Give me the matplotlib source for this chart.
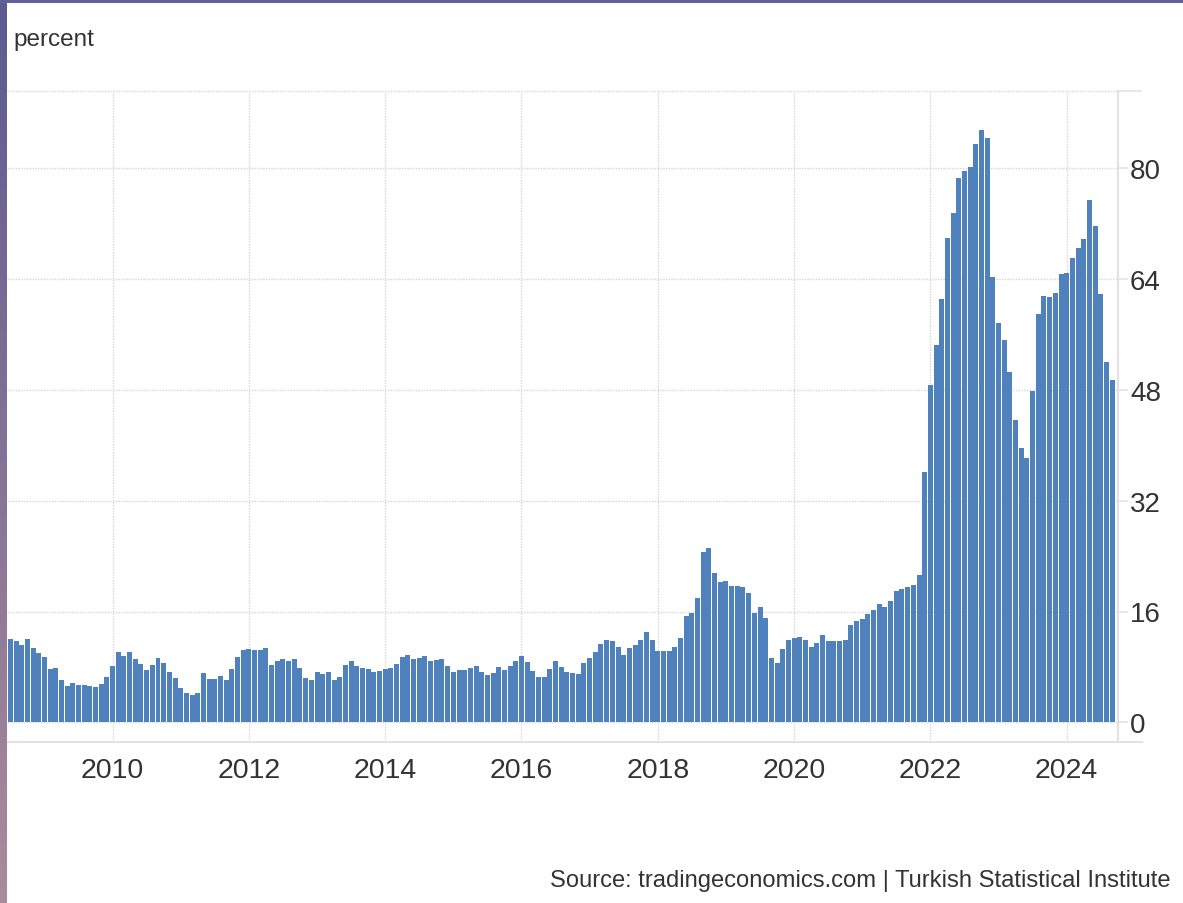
import matplotlib
matplotlib.use("Agg")
import matplotlib.pyplot as plt
import numpy as np
from matplotlib.colors import to_rgb

plt.rcParams["font.family"] = ["Liberation Sans", "DejaVu Sans"]

# Turkey inflation rate, monthly, Jun 2008 .. Sep 2024 (percent)
START_YEAR, START_MONTH = 2008, 6
inflation = [
    10.61, 12.06, 11.77, 11.13, 11.99, 10.76, 10.06,                        # 2008 Jun-Dec
    9.50, 7.73, 7.89, 6.13, 5.24, 5.73, 5.39, 5.33, 5.27, 5.08, 5.53, 6.53,  # 2009
    8.19, 10.13, 9.56, 10.19, 9.10, 8.37, 7.58, 8.33, 9.24, 8.62, 7.29, 6.40,  # 2010
    4.90, 4.16, 3.99, 4.26, 7.17, 6.24, 6.31, 6.65, 6.15, 7.66, 9.48, 10.45,  # 2011
    10.61, 10.43, 10.43, 10.70, 8.28, 8.87, 9.07, 8.88, 9.19, 7.80, 6.37, 6.16,  # 2012
    7.31, 7.03, 7.29, 6.13, 6.51, 8.30, 8.88, 8.17, 7.88, 7.71, 7.32, 7.40,  # 2013
    7.75, 7.89, 8.39, 9.38, 9.66, 9.16, 9.32, 9.54, 8.86, 8.96, 9.15, 8.17,  # 2014
    7.24, 7.55, 7.61, 7.91, 8.09, 7.20, 6.81, 7.14, 7.95, 7.58, 8.10, 8.81,  # 2015
    9.58, 8.78, 7.46, 6.57, 6.58, 7.64, 8.79, 8.05, 7.28, 7.16, 7.00, 8.53,  # 2016
    9.22, 10.13, 11.29, 11.87, 11.72, 10.90, 9.79, 10.68, 11.20, 11.90, 12.98, 11.92,  # 2017
    10.35, 10.26, 10.23, 10.85, 12.15, 15.39, 15.85, 17.90, 24.52, 25.24, 21.62, 20.30,  # 2018
    20.35, 19.67, 19.71, 19.50, 18.71, 15.72, 16.65, 15.01, 9.26, 8.55, 10.56, 11.84,  # 2019
    12.15, 12.37, 11.86, 10.94, 11.39, 12.62, 11.76, 11.77, 11.75, 11.89, 14.03, 14.60,  # 2020
    14.97, 15.61, 16.19, 17.14, 16.59, 17.53, 18.95, 19.25, 19.58, 19.89, 21.31, 36.08,  # 2021
    48.69, 54.44, 61.14, 69.97, 73.50, 78.62, 79.60, 80.21, 83.45, 85.51, 84.39, 64.27,  # 2022
    57.68, 55.18, 50.51, 43.68, 39.59, 38.21, 47.83, 58.94, 61.53, 61.36, 61.98, 64.77,  # 2023
    64.86, 67.07, 68.50, 69.80, 75.45, 71.60, 61.78, 51.97, 49.38,          # 2024 Jan-Sep
]
year_ticks = [2008, 2010, 2012, 2014, 2016, 2018, 2020, 2022, 2024]
y_ticks = [0, 16, 32, 48, 64, 80]

BAR = "#4f81bd"
GRID = "#d6d6d6"
AXIS = "#e2e2e2"
TEXT = "#333333"

W, H = 1183, 904
x = START_YEAR + (START_MONTH - 1 + np.arange(len(inflation))) / 12

fig = plt.figure(figsize=(W / 100, H / 100), dpi=100)
ax = fig.add_axes([7 / W, (H - 742.7) / H, 1111 / W, 651 / H])

ax.bar(x, inflation, width=0.88 / 12, color=BAR, zorder=2, linewidth=0)
ax.set_xlim(2008.451, 2024.753)
ax.set_ylim(-2.8, 91.2)

# grid (dotted), drawn under the bars
ax.set_xticks([t for t in year_ticks if t > 2008.451])
ax.set_yticks(y_ticks)
ax.grid(True, color=GRID, linestyle=(0, (1, 1)), linewidth=1.0, zorder=0)
ax.axhline(91.2, color=GRID, linestyle=(0, (1, 1)), linewidth=1.0, clip_on=False, zorder=0)

for s in ["left", "top", "bottom"]:
    ax.spines[s].set_visible(False)
ax.spines["right"].set_color(AXIS)
ax.spines["right"].set_linewidth(1.5)
ax.plot([0, 1.0216], [0, 0], transform=ax.transAxes, color=AXIS, lw=1.5, clip_on=False)
ax.plot([1, 1.0207], [1, 1], transform=ax.transAxes, color=AXIS, lw=1.2, clip_on=False)

ax.yaxis.tick_right()
ax.tick_params(axis="y", length=7.2, width=1.1, color=AXIS, pad=1.5,
               labelsize=20, labelcolor=TEXT)
ax.tick_params(axis="x", length=0, pad=11, labelsize=20.5, labelcolor=TEXT)
ax.set_xticklabels([str(t) for t in ax.get_xticks().astype(int)])
ax.set_yticklabels([str(t) for t in y_ticks])

# clipped "2008" label sticking in from the left edge
ax.text(2008, -0.0245, "2008", transform=ax.get_xaxis_transform(), ha="center",
        va="top", fontsize=20.5, color=TEXT, clip_on=False)

fig.text(13 / W, 1 - 40 / H, "percent", ha="left", va="center", fontsize=17.5, color=TEXT)
fig.text(1170 / W, 1 - 881 / H, "Source: tradingeconomics.com | Turkish Statistical Institute",
         ha="right", va="center", fontsize=17.1, color=TEXT)

# purple screenshot frame: left strip (gradient) and top strip
c0, c1 = np.array(to_rgb("#5c5a8f")), np.array(to_rgb("#aa8b9b"))
grad = np.linspace(0, 1, 256)[:, None, None] * (c1 - c0) + c0
sx = fig.add_axes([0, 0, 7 / W, 1], zorder=10)
sx.imshow(grad, aspect="auto", extent=[0, 1, 0, 1])
sx.set_axis_off()
tx = fig.add_axes([0, 1 - 4 / H, 1, 4 / H], zorder=10)
tx.set_facecolor("#62609a")
tx.set_xticks([])
tx.set_yticks([])
for s in tx.spines.values():
    s.set_visible(False)

fig.savefig("out.png", dpi=100)
